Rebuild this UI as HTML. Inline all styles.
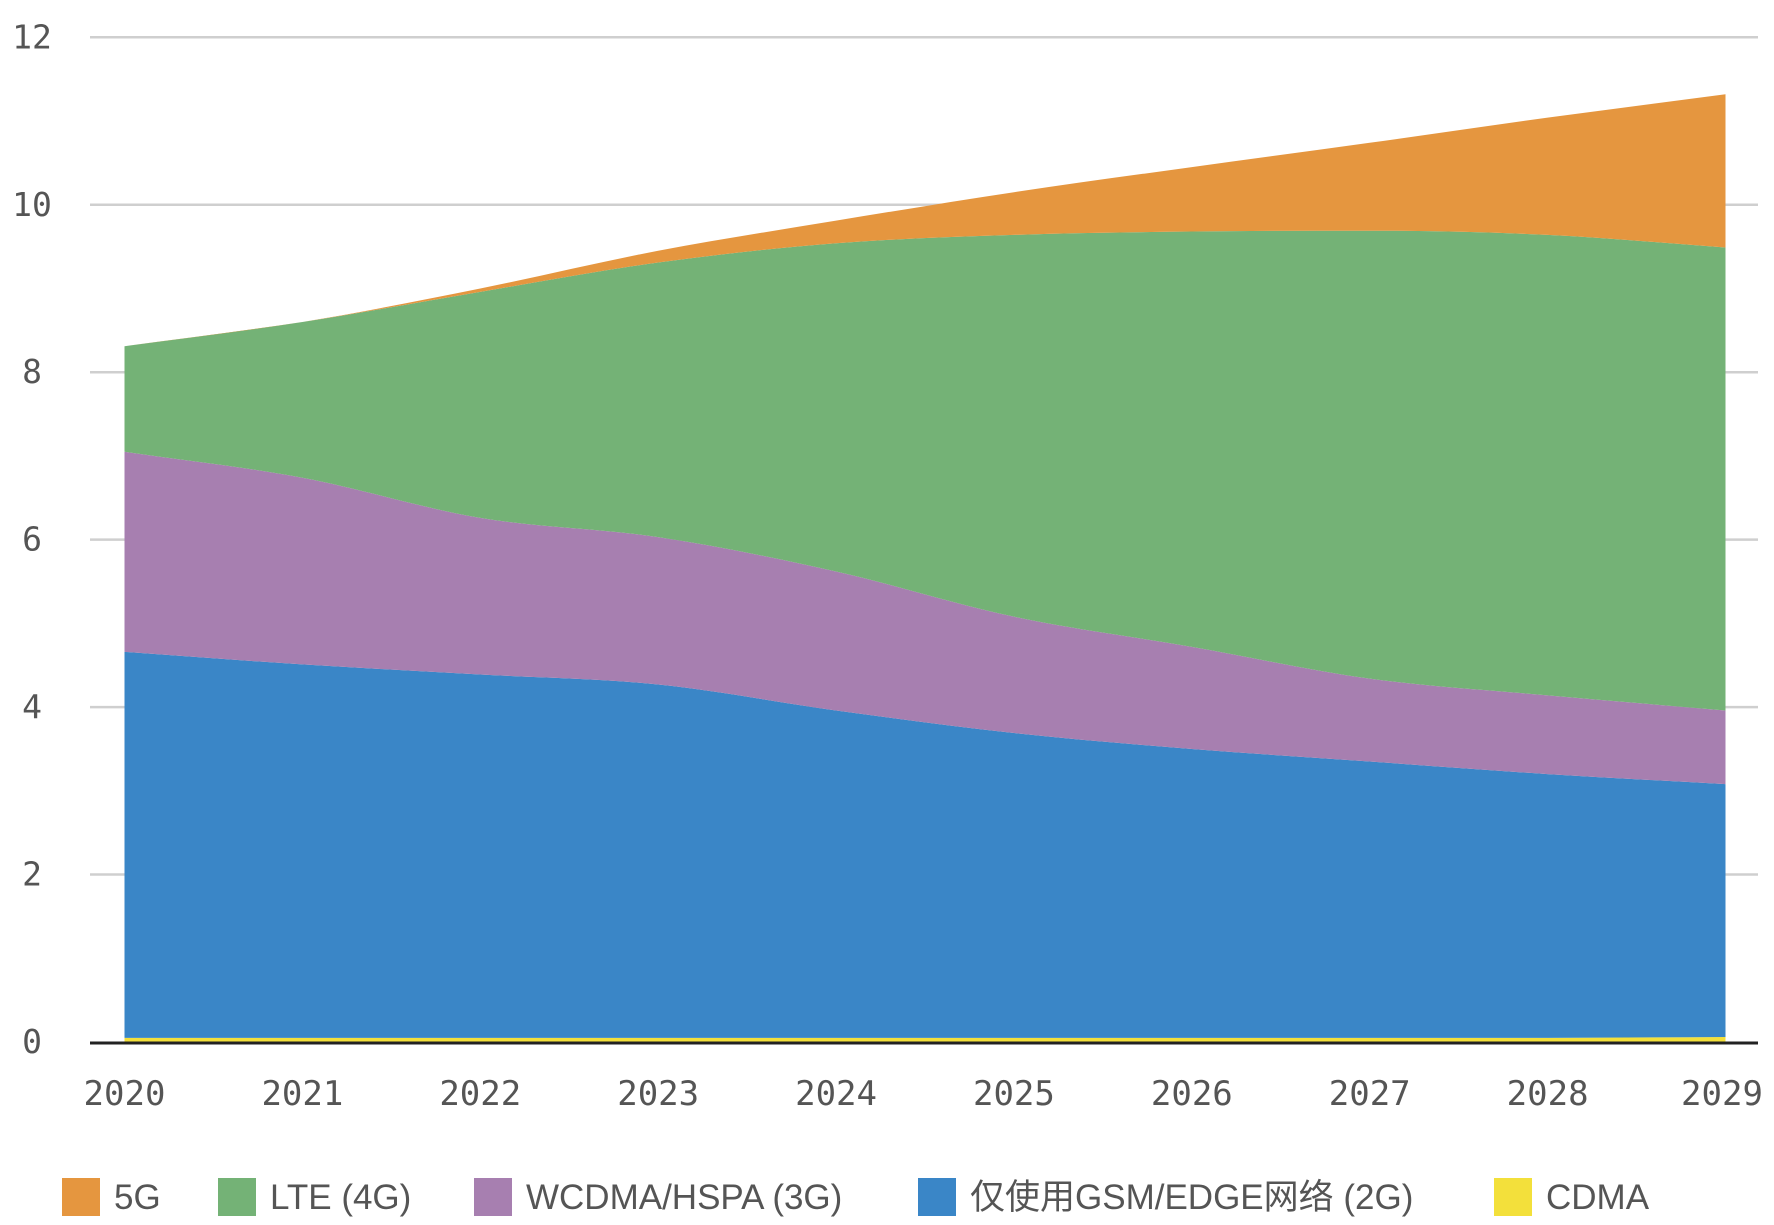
<!DOCTYPE html>
<html><head><meta charset="utf-8"><style>
body{margin:0;background:#fff;}
svg{display:block;}
text{font-family:"DejaVu Sans Mono","Liberation Mono",monospace;fill:#555;}
.lg{font-family:"Liberation Sans","Noto Sans CJK SC",sans-serif;fill:#555;}
</style></head><body>
<svg id="chart" width="1774" height="1225" viewBox="0 0 1774 1225"></svg>
<script>
const years = ["2020","2021","2022","2023","2024","2025","2026","2027","2028","2029"];
const cdma = [0.05,0.05,0.05,0.05,0.05,0.05,0.05,0.05,0.05,0.06];
const gsm2g = [4.61,4.46,4.34,4.22,3.91,3.64,3.45,3.30,3.15,3.02];
const wcdma3g = [2.39,2.23,1.87,1.76,1.66,1.39,1.22,0.99,0.94,0.88];
const lte4g = [1.26,1.86,2.70,3.28,3.92,4.56,4.96,5.35,5.50,5.53];
const fiveG = [0.00,0.00,0.04,0.14,0.27,0.51,0.77,1.05,1.40,1.83];
const yTicks = [0,2,4,6,8,10,12];
const seriesNames = ["5G","LTE (4G)","WCDMA/HSPA (3G)","仅使用GSM/EDGE网络 (2G)","CDMA"];
const seriesColors = ["#E5963F","#74B276","#A77FB0","#3A86C7","#F3E03B"];

const NS="http://www.w3.org/2000/svg";
const svg=document.getElementById('chart');
const x0=124.5,x1=1725.5,yBase=1042,yTop=37.3;
const xs=i=>x0+(x1-x0)*i/(years.length-1);
const ys=v=>yBase-(yBase-yTop)*v/12;
function el(t,a){const e=document.createElementNS(NS,t);for(const k in a)e.setAttribute(k,a[k]);svg.appendChild(e);return e;}

// grid
yTicks.forEach(v=>{
  if(v>0){const g=el('line',{x1:90,x2:1758,y1:ys(v),y2:ys(v),stroke:'#cfcfcf','stroke-width':2.5});
  
  }
  const t=el('text',{x:32,y:ys(v)+11,'text-anchor':'middle','font-size':33});
  t.textContent=v;
  
  
});

// monotone cubic path
function monoPath(pts){
  const n=pts.length,d=[],m=[];
  for(let i=0;i<n-1;i++)d.push((pts[i+1][1]-pts[i][1])/(pts[i+1][0]-pts[i][0]));
  for(let i=0;i<n;i++){
    if(i===0)m.push(d[0]);else if(i===n-1)m.push(d[n-2]);
    else m.push(d[i-1]*d[i]<=0?0:(d[i-1]+d[i])/2);
  }
  for(let i=0;i<n-1;i++){if(d[i]===0){m[i]=0;m[i+1]=0;continue;}
    const a=m[i]/d[i],b=m[i+1]/d[i],s=a*a+b*b;if(s>9){const t=3/Math.sqrt(s);m[i]=t*a*d[i];m[i+1]=t*b*d[i];}}
  let p='';
  for(let i=0;i<n-1;i++){const h=(pts[i+1][0]-pts[i][0])/3;
    p+=` C${pts[i][0]+h},${pts[i][1]+m[i]*h} ${pts[i+1][0]-h},${pts[i+1][1]-m[i+1]*h} ${pts[i+1][0]},${pts[i+1][1]}`;}
  return p;
}
const stackOrder=[cdma,gsm2g,wcdma3g,lte4g,fiveG];
const colorOrder=[4,3,2,1,0];
const names=['area-cdma','area-2g','area-3g','area-4g','area-5g'];
let base=years.map(()=>0);
stackOrder.forEach((s,k)=>{
  const top=base.map((b,i)=>b+s[i]);
  const tp=top.map((v,i)=>[xs(i),ys(v)]);
  const bp=base.map((v,i)=>[xs(i),ys(v)]).reverse();
  const d='M'+tp[0][0]+','+tp[0][1]+monoPath(tp)+' L'+bp[0][0]+','+bp[0][1]+monoPath(bp)+' Z';
  const p=el('path',{d:d,fill:seriesColors[colorOrder[k]]});
  
  
  base=top;
});
const ax=el('line',{x1:90,x2:1758,y1:yBase+1,y2:yBase+1,stroke:'#222','stroke-width':3});


years.forEach((y,i)=>{
  const t=el('text',{x:Math.min(xs(i),1722),y:1105,'text-anchor':'middle','font-size':34});
  t.textContent=y;
  
  
});
// legend
const lx=[62,218,474,918,1494];
seriesNames.forEach((n,i)=>{
  const r=el('rect',{x:lx[i],y:1178,width:38,height:38,fill:seriesColors[i]});
  
  
  const t=el('text',{x:lx[i]+52,y:1209,'font-size':35,class:'lg'});
  t.textContent=n;
  
  
});
</script>
</body></html>
